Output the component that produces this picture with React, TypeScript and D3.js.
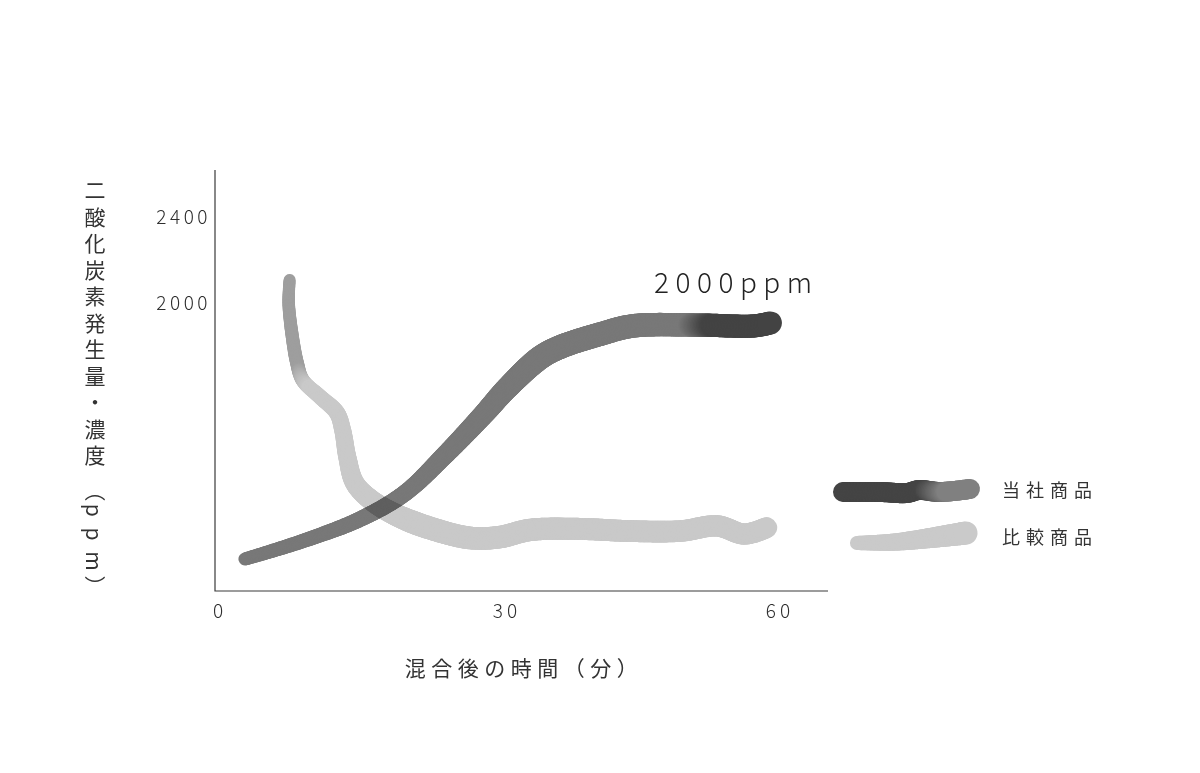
import { useEffect, useRef } from 'react';
import * as d3 from 'd3';

// ─── Data ─────────────────────────────────────────────────────────────────────
const oursMinutes = [2.9, 8.8, 15.3, 20.1, 24.4, 28.7, 30.9, 34.6, 36.8, 41.1, 44.6, 51.8, 57.6, 59.4];
const oursPpm = [809, 888, 995, 1116, 1293, 1489, 1596, 1745, 1796, 1856, 1894, 1898, 1894, 1908];

const rivalMinutes = [7.7, 7.6, 8.0, 8.5, 9.1, 11.0, 12.8, 13.4, 13.9, 14.7, 16.6, 19.4, 22.8, 27.1, 30.3, 33.5, 38.9, 44.3, 49.7, 53.7, 56.6, 59.0];
const rivalPpm = [2108, 2001, 1842, 1721, 1642, 1563, 1489, 1410, 1284, 1163, 1079, 1009, 953, 907, 911, 944, 949, 939, 939, 963, 925, 955];

const xTicks = [0, 30, 60];
const yTicks = [2000, 2400];
const legendLabels = ['当社商品', '比較商品'];
const yTitle = ['二', '酸', '化', '炭', '素', '発', '生', '量', '・', '濃', '度', '（', 'p', 'p', 'm', '）'];
const xTitle = '混合後の時間（分）';
const peakLabel = '2000ppm';

const FONT = "'Noto Sans CJK JP', 'Noto Sans', sans-serif";
const W = 1200, H = 773;

type Pt = [number, number];

// draws a thick "brush" stroke: sampled along a smooth curve, width/colour vary along it
function brush(
  g: d3.Selection<SVGGElement, unknown, null, undefined>,
  pts: Pt[],
  widthAt: (t: number) => number,
  colorAt: (x: number, y: number, t: number) => string,
) {
  const line = d3.line<Pt>().curve(d3.curveCatmullRom.alpha(0.5));
  const path = g.append('path').attr('d', line(pts)).attr('fill', 'none').attr('stroke', 'none');
  const node = path.node() as SVGPathElement;
  const L = node.getTotalLength();
  const n = Math.ceil(L / 1.5);
  let prev = node.getPointAtLength(0);
  for (let i = 1; i <= n; i++) {
    const t = i / n;
    const p = node.getPointAtLength(t * L);
    g.append('line')
      .attr('x1', prev.x).attr('y1', prev.y).attr('x2', p.x).attr('y2', p.y)
      .attr('stroke', colorAt(p.x, p.y, t))
      .attr('stroke-width', widthAt(t))
      .attr('stroke-linecap', 'round');
    prev = p;
  }
  path.remove();
}

export default function App() {
  const ref = useRef<SVGSVGElement>(null);

  useEffect(() => {
    document.body.style.margin = '0';
    const svg = d3.select(ref.current as SVGSVGElement);
    svg.selectAll('*').remove();

    const x = d3.scaleLinear().domain([0, 60]).range([218, 776]);
    const y = d3.scaleLinear().domain([660, 2620]).range([591, 170]);
    const left = 215, right = 828, top = 170, bottom = y(660);

    // Axes (L-frame)
    svg.append('path')
      .attr('d', `M${left},${top}V${bottom}H${right}`)
      .attr('fill', 'none').attr('stroke', '#3a3a3a').attr('stroke-width', 1.2);

    // Tick labels
    svg.append('g').selectAll('text').data(xTicks).join('text')
      .attr('x', d => x(d)).attr('dx', d => (d === 0 ? 2 : d === 30 ? 10 : 4)).attr('y', bottom + 27)
      .attr('text-anchor', 'middle').attr('font-size', 19).attr('letter-spacing', 4)
      .attr('font-family', FONT).attr('font-weight', 300).attr('fill', '#2e2e2e')
      .text(d => d);
    svg.append('g').selectAll('text').data(yTicks).join('text')
      .attr('x', 211).attr('y', d => y(d)).attr('dy', '0.36em')
      .attr('text-anchor', 'end').attr('font-size', 19).attr('letter-spacing', 3.5)
      .attr('font-family', FONT).attr('font-weight', 300).attr('fill', '#2e2e2e')
      .text(d => d);

    // Comparison product (light)
    const gRival = svg.append('g');
    const rivalPts: Pt[] = rivalMinutes.map((m, i) => [x(m), y(rivalPpm[i])]);
    const rivalW = d3.scaleLinear().domain([0, 0.15, 0.3, 0.45, 1]).range([12, 14, 18, 23, 21]).clamp(true);
    const rivalC = d3.scaleLinear<string>().domain([370, 388]).range(['#9e9e9e', '#c9c9c9']).clamp(true);
    brush(gRival, rivalPts, rivalW, (_px, py) => rivalC(py));

    // Our product (dark), multiplied over the light one
    const gOurs = svg.append('g').style('mix-blend-mode', 'multiply');
    const oursPts: Pt[] = oursMinutes.map((m, i) => [x(m), y(oursPpm[i])]);
    const oursW = d3.scaleLinear().domain([0, 0.3, 0.6, 1]).range([13, 17, 24, 23]).clamp(true);
    const oursC = d3.scaleLinear<string>().domain([690, 713]).range(['#787878', '#434343']).clamp(true);
    brush(gOurs, oursPts, oursW, px => oursC(px));

    // Peak annotation
    svg.append('text')
      .attr('x', 654).attr('y', 293)
      .attr('font-size', 28).attr('letter-spacing', 6.5)
      .attr('font-family', FONT).attr('font-weight', 300).attr('fill', '#222')
      .text(peakLabel);

    // Legend
    const lg = svg.append('g').attr('transform', 'translate(835,0)');
    const sw0: Pt[] = [[8, 492], [45, 492], [72, 493], [84, 490], [105, 492], [135, 489]];
    const sw0C = d3.scaleLinear<string>().domain([925 - 835, 948 - 835]).range(['#444444', '#808080']).clamp(true);
    brush(lg.append('g'), sw0, () => 20, px => sw0C(px));
    const sw1: Pt[] = [[22, 543], [60, 542], [95, 538], [131, 533]];
    const sw1W = d3.scaleLinear().domain([0, 1]).range([14, 23]);
    brush(lg.append('g'), sw1, sw1W, () => '#cacaca');

    lg.append('g').selectAll('text').data(legendLabels).join('text')
      .attr('x', 167).attr('y', (_d, i) => 491 + i * 47).attr('dy', '0.36em')
      .attr('font-size', 18).attr('letter-spacing', 6)
      .attr('font-family', FONT).attr('font-weight', 400).attr('fill', '#333')
      .text(d => d);

    // X title
    svg.append('text')
      .attr('x', 524).attr('y', 668).attr('dy', '0.36em')
      .attr('text-anchor', 'middle').attr('font-size', 21).attr('letter-spacing', 5.5)
      .attr('font-family', FONT).attr('font-weight', 400).attr('fill', '#333')
      .text(xTitle);

    // Y title: one vertical text, each glyph placed along the column
    const steps = yTitle.map((c, i) => (i === 0 ? 0 : c === '（' ? 35 : /[pm）]/.test(c) ? 23.8 : 26.5));
    const ys = d3.cumsum(steps).map(v => 180 + v);
    svg.append('text')
      .style('writing-mode', 'vertical-rl')
      .style('text-orientation', 'mixed')
      .attr('font-size', 21)
      .attr('font-family', FONT).attr('font-weight', 400).attr('fill', '#333')
      .selectAll('tspan').data(yTitle).join('tspan')
      .attr('x', 95).attr('y', (_c, i) => ys[i])
      .text(c => c);
  }, []);

  return <svg ref={ref} width={W} height={H} style={{ display: 'block', background: '#fff' }} />;
}
